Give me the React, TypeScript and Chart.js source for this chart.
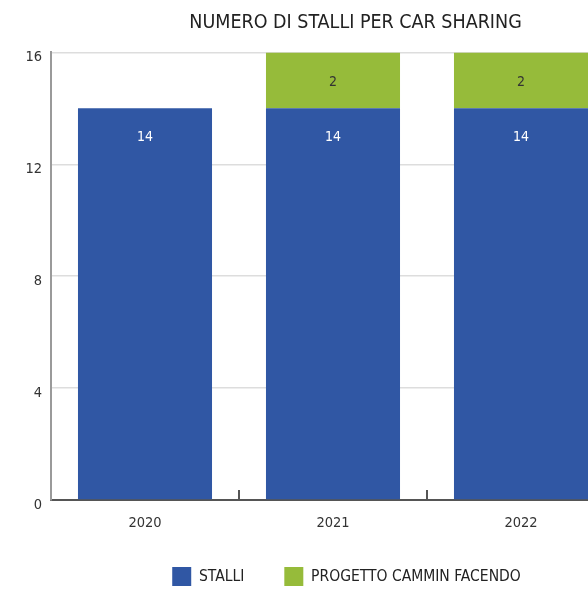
import React, { useEffect, useRef } from "react";
import { Chart, registerables } from "chart.js";

Chart.register(...registerables);

const categories = ["2020", "2021", "2022"];
const stalliValues = [14, 14, 14];
const progettoValues: (number | null)[] = [null, 2, 2];
const yTickValues = [0, 4, 8, 12, 16];
const titleText = "NUMERO DI STALLI PER CAR SHARING";
const seriesNames = ["STALLI", "PROGETTO CAMMIN FACENDO"];

const FONT = "'DejaVu Sans Condensed', 'Liberation Sans', Arial, sans-serif";
const BLUE = "#3057a4";
const GREEN = "#96bb3a";

const barLabels = {
  id: "barLabels",
  afterDatasetsDraw(chart: any) {
    const ctx = chart.ctx;
    chart.data.datasets.forEach((ds: any, di: number) => {
      const meta = chart.getDatasetMeta(di);
      meta.data.forEach((el: any, i: number) => {
        const v = ds.data[i];
        if (v == null) return;
        ctx.save();
        ctx.fillStyle = di === 0 ? "#ffffff" : "#333333";
        ctx.font = `14px ${FONT}`;
        ctx.textAlign = "center";
        ctx.textBaseline = "middle";
        ctx.fillText(String(v), el.x, el.y + 29.5);
        ctx.restore();
      });
    });
  },
};

const boundaryTicks = {
  id: "boundaryTicks",
  afterDraw(chart: any) {
    const ctx = chart.ctx;
    const xs = chart.scales.x;
    const y0 = chart.scales.y.getPixelForValue(0);
    ctx.save();
    ctx.strokeStyle = "#555555";
    ctx.lineWidth = 2;
    ctx.beginPath();
    for (let i = 1; i < categories.length; i++) {
      const px = (xs.getPixelForTick(i - 1) + xs.getPixelForTick(i)) / 2;
      ctx.moveTo(px, y0);
      ctx.lineTo(px, y0 - 10);
    }
    ctx.stroke();
    ctx.restore();
  },
};

// shift title and legend blocks to where the original (wider, cropped) chart had them
const blockNudge = {
  id: "blockNudge",
  afterLayout(chart: any) {
    const lg = chart.legend;
    if (lg) {
      lg.top -= 13;
      lg.bottom -= 13;
      lg.left += 39;
      lg.right += 39;
    }
    const tb = chart.titleBlock;
    if (tb) {
      tb.left += 48;
      tb.right += 48;
    }
  },
};

export default function App() {
  const ref = useRef<HTMLCanvasElement | null>(null);

  useEffect(() => {
    if (!ref.current) return;
    const chart = new Chart(ref.current, {
      type: "bar",
      data: {
        labels: categories,
        datasets: [
          {
            label: seriesNames[0],
            data: stalliValues,
            backgroundColor: BLUE,
            borderWidth: 0,
            barPercentage: 0.713,
            categoryPercentage: 1,
          },
          {
            label: seriesNames[1],
            data: progettoValues,
            backgroundColor: GREEN,
            borderWidth: 0,
            barPercentage: 0.713,
            categoryPercentage: 1,
          },
        ],
      },
      options: {
        responsive: false,
        animation: false,
        layout: { padding: { left: 0, right: 85, top: 0, bottom: 0 } },
        plugins: {
          title: {
            display: true,
            text: titleText,
            color: "#222222",
            font: { family: FONT, size: 19.5, weight: "normal" },
            padding: { top: 11, bottom: 18 },
          },
          legend: {
            position: "bottom",
            labels: {
              boxWidth: 19,
              boxHeight: 19,
              padding: 40,
              color: "#222222",
              font: { family: FONT, size: 15.5 },
            },
          },
          tooltip: { enabled: false },
        },
        scales: {
          x: {
            stacked: true,
            grid: { display: true, drawOnChartArea: false, drawTicks: false },
            border: { display: true, color: "#555555", width: 2 },
            ticks: { color: "#333333", padding: 15, font: { family: FONT, size: 14.5 } },
            afterFit: (s: any) => {
              s.height = 40;
            },
          },
          y: {
            stacked: true,
            min: 0,
            max: 16,
            afterBuildTicks: (s: any) => {
              s.ticks = yTickValues.map((v) => ({ value: v }));
            },
            grid: { color: "#dddddd", drawTicks: false, lineWidth: 1.5 },
            border: { display: true, color: "#9a9a9a", width: 2 },
            ticks: {
              color: "#333333",
              padding: 9,
              labelOffset: 5,
              font: { family: FONT, size: 14.5 },
            },
            afterFit: (s: any) => {
              s.width = 51;
            },
          },
        },
      },
      plugins: [barLabels, boundaryTicks, blockNudge],
    });
    return () => chart.destroy();
  }, []);

  return (
    <div
      style={{
        position: "fixed",
        left: 0,
        top: 0,
        width: 588,
        height: 589,
        overflow: "hidden",
        background: "#ffffff",
      }}
    >
      <canvas ref={ref} width={700} height={609} style={{ display: "block" }} />
    </div>
  );
}
